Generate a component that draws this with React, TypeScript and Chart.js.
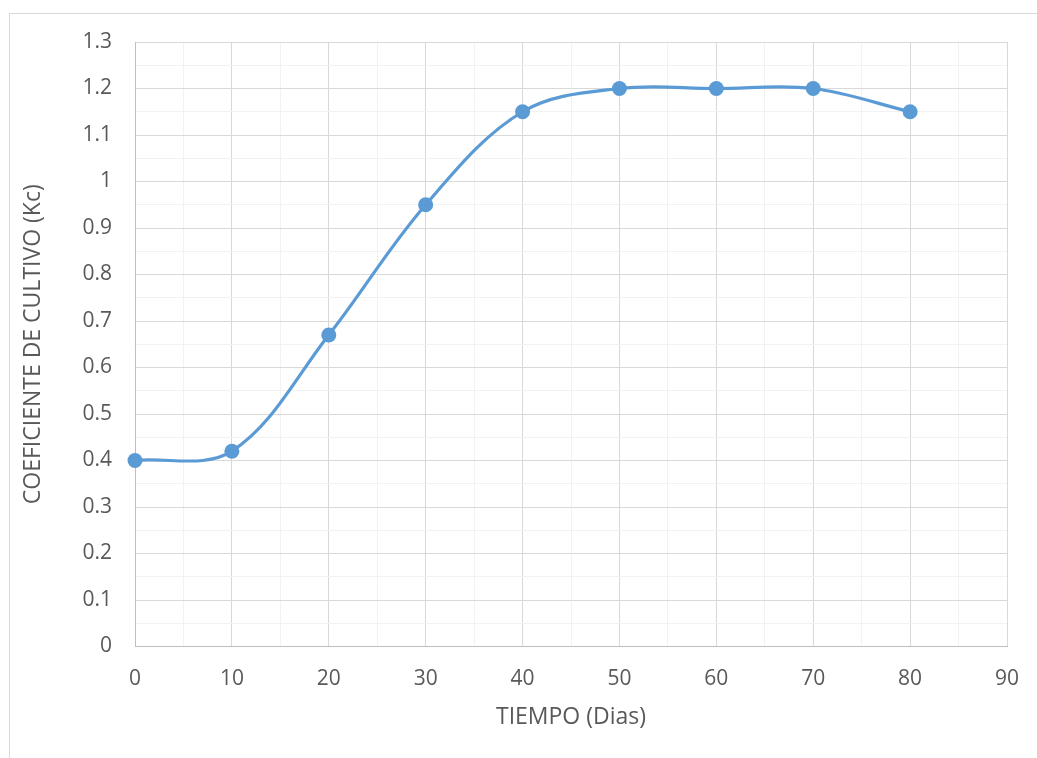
import React, { useEffect, useRef } from "react";
import { Chart, registerables } from "chart.js";

Chart.register(...registerables);

const dias = [0, 10, 20, 30, 40, 50, 60, 70, 80];
const kc = [0.4, 0.42, 0.67, 0.95, 1.15, 1.2, 1.2, 1.2, 1.15];
const xTitle = "TIEMPO (Dias)";
const yTitle = "COEFICIENTE DE CULTIVO (Kc)";

const FONT = "'Open Sans', 'Liberation Sans', sans-serif";
const TEXT = "#595959";
const MAJOR = "#d9d9d9";
const MINOR = "#f2f2f2";
const LINE = "#5B9BD5";

const frame = {
  id: "frame",
  beforeDraw(chart: any) {
    const ctx = chart.ctx;
    ctx.save();
    ctx.fillStyle = "#ffffff";
    ctx.fillRect(0, 0, chart.width, chart.height);
    ctx.strokeStyle = "#d9d9d9";
    ctx.lineWidth = 1;
    ctx.strokeRect(9.5, 13.5, chart.width + 20, chart.height + 20);
    ctx.restore();
  },
};

export default function App() {
  const ref = useRef<HTMLCanvasElement | null>(null);
  useEffect(() => {
    if (!ref.current) return;
    const chart = new Chart(ref.current, {
      type: "line",
      data: {
        datasets: [
          {
            data: dias.map((d, i) => ({ x: d, y: kc[i] })),
            borderColor: LINE,
            backgroundColor: LINE,
            borderWidth: 3.2,
            pointRadius: 7.5,
            pointBorderWidth: 0,
            pointBackgroundColor: LINE,
            tension: 0.35,
            fill: false,
            clip: false as any,
          },
        ],
      },
      plugins: [frame],
      options: {
        responsive: false,
        animation: false,
        devicePixelRatio: 1,
        layout: { padding: { left: 0, top: 42, right: 30, bottom: 0 } },
        plugins: { legend: { display: false }, tooltip: { enabled: false } },
        scales: {
          x: {
            type: "linear",
            min: 0,
            max: 90,
            afterFit(scale: any) {
              scale.height = 111.5;
              scale.paddingLeft = 0;
              scale.paddingRight = 0;
            },
            ticks: {
              stepSize: 5,
              maxTicksLimit: 1000,
              autoSkip: false,
              maxRotation: 0,
              padding: 20,
              color: TEXT,
              font: { family: FONT, size: 21 },
              callback: (v: any) => (Math.round(v) % 10 === 0 ? String(Math.round(v)) : ""),
            },
            grid: {
              drawTicks: false,
              color: (c: any) => (c.index % 2 === 0 ? MAJOR : MINOR),
              lineWidth: 1,
            },
            border: { color: "#bfbfbf", width: 1 },
            title: {
              display: true,
              text: xTitle,
              color: TEXT,
              font: { family: FONT, size: 23 },
              padding: { top: 0, bottom: 27 },
            },
          },
          y: {
            type: "linear",
            min: 0,
            max: 1.3,
            afterFit(scale: any) {
              scale.width = 135;
              scale.paddingTop = 0;
              scale.paddingBottom = 0;
            },
            ticks: {
              stepSize: 0.05,
              maxTicksLimit: 1000,
              autoSkip: false,
              padding: 23,
              color: TEXT,
              font: { family: FONT, size: 21 },
              callback: (v: any) => {
                const h = Math.round(Number(v) * 100);
                if (h % 10 !== 0) return "";
                return String(h / 100);
              },
            },
            grid: {
              drawTicks: false,
              color: (c: any) => (c.index % 2 === 0 ? MAJOR : MINOR),
              lineWidth: 1,
            },
            border: { color: "#bfbfbf", width: 1 },
            title: {
              display: true,
              text: yTitle,
              color: TEXT,
              font: { family: FONT, size: 23 },
              padding: { top: 20, bottom: 0 },
            },
          },
        },
      },
    });
    return () => chart.destroy();
  }, []);
  return (
    <div style={{ position: "absolute", left: 0, top: 0, width: 1037, height: 758, background: "#fff" }}>
      <canvas ref={ref} width={1037} height={758} style={{ display: "block", width: 1037, height: 758 }} />
    </div>
  );
}
